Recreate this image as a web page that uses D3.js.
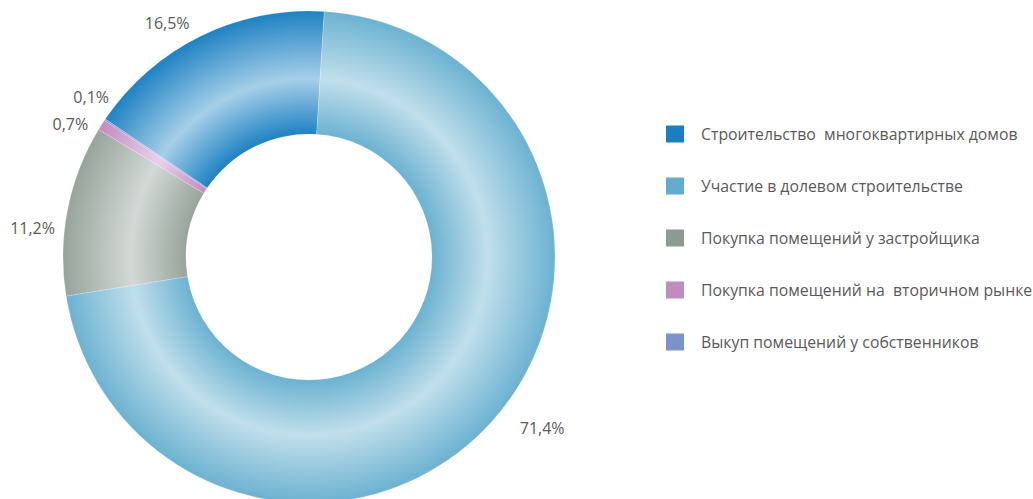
<!DOCTYPE html>
<html>
<head>
<meta charset="utf-8">
<script src="https://cdn.jsdelivr.net/npm/d3@7"></script>
<style>
  body { margin: 0; background: #fff; }
  svg text { font-family: "Open Sans", "Noto Sans", sans-serif; fill: #5a5a5a; white-space: pre; }
</style>
</head>
<body>
<svg id="chart" width="1033" height="499"></svg>
<script>
// categories and shares (%), in legend order
const categories = [
    'Строительство  многоквартирных домов',
    'Участие в долевом строительстве',
    'Покупка помещений у застройщика',
    'Покупка помещений на  вторичном рынке',
    'Выкуп помещений у собственников'
];
const shares = [16.5, 71.4, 11.2, 0.7, 0.1];
const shareLabels = ['16,5%', '71,4%', '11,2%', '0,7%', '0,1%'];

// colours: legend swatch, ring edge, ring middle
const swatchColors = ['#1a7fc1', '#62accf', '#8a9b8f', '#c08cbf', '#7894c8'];
const edgeColors   = ['#1f82c3', '#6cb2d1', '#97a49b', '#c48bc1', '#7e9bcc'];
const midColors    = ['#a6cfe8', '#c1dfeb', '#d3d9d6', '#e9d1e8', '#c3d0ea'];

// label placement tweaks (degrees, radius) so texts sit like the original
const labelTweak = [[-5, 274], [-6, 289], [-5, 278], [-3.4, 273], [2.3, 270]];

const svg = d3.select('#chart');
const cx = 309, cy = 257, outerR = 246, innerR = 123;

const data = categories.map((c, i) => ({ name: c, value: shares[i], i: i }));

const pie = d3.pie()
    .sort(null)
    .value(d => d.value)
    .startAngle(-55.9 * Math.PI / 180)
    .endAngle((360 - 55.9) * Math.PI / 180);

const arc = d3.arc().innerRadius(innerR).outerRadius(outerR);

// radial gradients: dark at both ring edges, light in the middle
const defs = svg.append('defs');
data.forEach(d => {
    let g = defs.append('radialGradient')
        .attr('id', 'grad' + d.i)
        .attr('gradientUnits', 'userSpaceOnUse')
        .attr('cx', 0).attr('cy', 0).attr('r', outerR);
    let inner = innerR / outerR;
    g.append('stop').attr('offset', inner).attr('stop-color', edgeColors[d.i]);
    g.append('stop').attr('offset', inner + (1 - inner) * 0.45).attr('stop-color', midColors[d.i]);
    g.append('stop').attr('offset', 1).attr('stop-color', edgeColors[d.i]);
});

const ring = svg.append('g').attr('transform', `translate(${cx},${cy})`);
const arcs = pie(data);

ring.selectAll('path')
    .data(arcs)
    .join('path')
    .attr('d', arc)
    .attr('fill', d => `url(#grad${d.data.i})`)
    .attr('stroke', 'rgba(255,255,255,0.35)')
    .attr('stroke-width', 0.5);

// percentage labels
ring.selectAll('text.pct')
    .data(arcs)
    .join('text')
    .attr('class', 'pct')
    .attr('text-anchor', 'middle')
    .attr('dominant-baseline', 'central')
    .attr('font-size', 16)
    .attr('x', d => {
        let t = labelTweak[d.data.i];
        let a = (d.startAngle + d.endAngle) / 2 + t[0] * Math.PI / 180;
        return Math.sin(a) * t[1];
    })
    .attr('y', d => {
        let t = labelTweak[d.data.i];
        let a = (d.startAngle + d.endAngle) / 2 + t[0] * Math.PI / 180;
        return -Math.cos(a) * t[1];
    })
    .text(d => shareLabels[d.data.i]);

// legend
const rowScale = d3.scalePoint()
    .domain(categories)
    .range([134, 342]);

const legend = svg.append('g').attr('class', 'legend');
const rows = legend.selectAll('g')
    .data(categories)
    .join('g')
    .attr('transform', d => `translate(666,${rowScale(d)})`);

rows.append('rect')
    .attr('x', 0).attr('y', -8.5)
    .attr('width', 18).attr('height', 17)
    .attr('fill', (d, i) => swatchColors[i]);

rows.append('text')
    .attr('x', 35)
    .attr('y', 0)
    .attr('dominant-baseline', 'central')
    .attr('font-size', 15.8)
    .text(d => d);
</script>
</body>
</html>
